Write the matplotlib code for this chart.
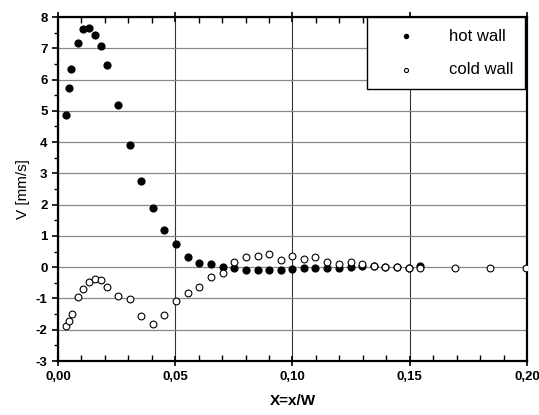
#!/usr/bin/env python3
"""Vertical velocity profiles near hot and cold walls."""

import matplotlib.pyplot as plt
from matplotlib.ticker import MultipleLocator, FuncFormatter

# --- Data ---
x_hot = [0.0033, 0.0047, 0.0057, 0.0084, 0.0108, 0.0132, 0.0156, 0.0182, 0.0208,
         0.0254, 0.0306, 0.0354, 0.0405, 0.0453, 0.0503, 0.0553, 0.0602, 0.0652,
         0.0702, 0.0752, 0.0801, 0.0851, 0.0901, 0.0949, 0.0999, 0.1050, 0.1098,
         0.1148, 0.1198, 0.1248, 0.1297, 0.1346, 0.1395, 0.1445, 0.1495, 0.1545]
v_hot = [4.87, 5.73, 6.34, 7.17, 7.61, 7.64, 7.43, 7.08, 6.46,
         5.20, 3.91, 2.77, 1.90, 1.20, 0.73, 0.34, 0.15, 0.09,
         0.00, -0.01, -0.10, -0.10, -0.09, -0.08, -0.07, -0.04, -0.04,
         -0.01, -0.03, 0.02, 0.05, 0.03, 0.00, 0.00, -0.04, 0.05]

x_cold = [0.0033, 0.0047, 0.0058, 0.0084, 0.0108, 0.0132, 0.0156, 0.0182, 0.0208,
          0.0256, 0.0306, 0.0354, 0.0405, 0.0453, 0.0503, 0.0553, 0.0602, 0.0652,
          0.0702, 0.0752, 0.0801, 0.0851, 0.0901, 0.0949, 0.0999, 0.1050, 0.1098,
          0.1148, 0.1198, 0.1248, 0.1297, 0.1346, 0.1395, 0.1445, 0.1495, 0.1545,
          0.1695, 0.1844, 0.1995]
v_cold = [-1.88, -1.72, -1.49, -0.95, -0.71, -0.47, -0.39, -0.41, -0.64,
          -0.92, -1.02, -1.55, -1.81, -1.52, -1.08, -0.82, -0.63, -0.32,
          -0.20, 0.17, 0.32, 0.37, 0.41, 0.23, 0.36, 0.27, 0.32,
          0.16, 0.10, 0.16, 0.10, 0.05, 0.00, 0.01, -0.04, -0.04,
          -0.02, -0.01, -0.01]

plt.rcParams.update({
    'font.family': ['Liberation Sans', 'DejaVu Sans'],
    'font.size': 10,
})

fig = plt.figure(figsize=(5.39, 4.15), dpi=100)
ax = fig.add_axes([0.1076, 0.1301, 0.8701, 0.8289])

ax.scatter(x_hot, v_hot, s=24, color='black', zorder=3, label='hot wall')
ax.scatter(x_cold, v_cold, s=24, facecolor='white', edgecolor='black',
           linewidth=0.8, zorder=3, label='cold wall')

ax.set_xlim(0.0, 0.20)
ax.set_ylim(-3, 8)

ax.xaxis.set_major_locator(MultipleLocator(0.05))
ax.xaxis.set_minor_locator(MultipleLocator(0.01))
ax.yaxis.set_major_locator(MultipleLocator(1))
ax.yaxis.set_minor_locator(MultipleLocator(0.5))

ax.xaxis.set_major_formatter(FuncFormatter(lambda v, p: f'{v:.2f}'.replace('.', ',')))
ax.yaxis.set_major_formatter(FuncFormatter(lambda v, p: f'{int(round(v))}'))

for lbl in ax.get_xticklabels() + ax.get_yticklabels():
    lbl.set_fontweight('bold')
    lbl.set_fontsize(9.5)

ax.tick_params(axis='x', which='major', direction='inout', length=7, width=1.2, top=True)
ax.tick_params(axis='x', which='minor', direction='in', length=4, width=1.0, top=True)
ax.tick_params(axis='y', which='major', direction='out', length=4, width=1.2)
ax.tick_params(axis='y', which='minor', direction='out', length=3, width=1.0)

ax.grid(True, which='major', axis='y', color='#888888', linewidth=0.9)
ax.grid(True, which='major', axis='x', color='#333333', linewidth=0.8)
ax.set_axisbelow(True)

for sp in ax.spines.values():
    sp.set_linewidth(1.6)

ax.set_xlabel('X=x/W', fontsize=11, fontweight='bold', labelpad=8)
ax.set_ylabel('V [mm/s]', fontsize=11, labelpad=4)

leg = ax.legend(loc='upper right', fontsize=12, frameon=True, fancybox=False,
                markerscale=0.6, handlelength=3.2, handletextpad=1.0,
                borderpad=0.7, labelspacing=1.1, borderaxespad=0.0,
                bbox_to_anchor=(0.996, 1.0))
leg.get_frame().set_edgecolor('black')
leg.get_frame().set_linewidth(1.0)
leg.get_frame().set_alpha(1.0)

fig.savefig('out.png', dpi=100)
